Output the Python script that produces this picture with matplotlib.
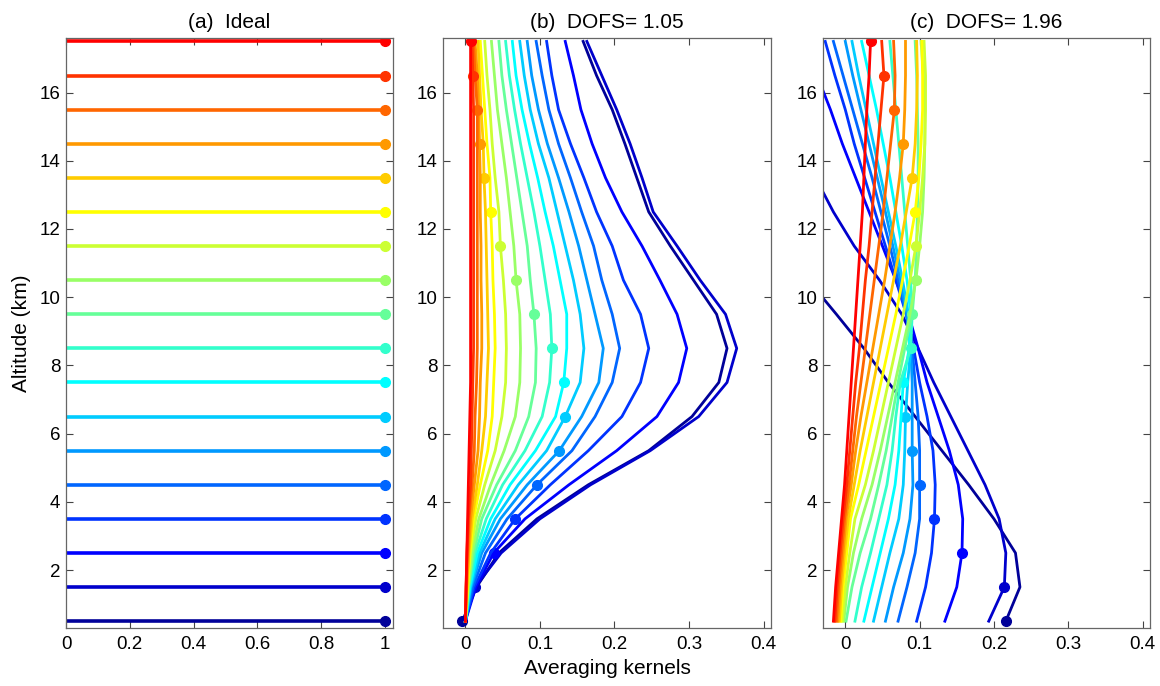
import matplotlib
matplotlib.use("Agg")
import matplotlib.pyplot as plt

plt.rcParams['font.family'] = ['Liberation Sans', 'DejaVu Sans']

# ---------------- data ----------------
altitudes = [0.5, 1.5, 2.5, 3.5, 4.5, 5.5, 6.5, 7.5, 8.5,
             9.5, 10.5, 11.5, 12.5, 13.5, 14.5, 15.5, 16.5, 17.5]

# panel (a): ideal kernels (value at own level)
ideal_values = [1.0, 1.0, 1.0, 1.0, 1.0, 1.0, 1.0, 1.0, 1.0,
                1.0, 1.0, 1.0, 1.0, 1.0, 1.0, 1.0, 1.0, 1.0]

# panel (b): one row per kernel (kernel level 0.5 ... 17.5), values over altitudes 0.5 ... 17.5
ak_b_k00 = [-0.004, 0.015, 0.045, 0.096, 0.165, 0.246, 0.304, 0.340, 0.351, 0.337, 0.306, 0.275, 0.246, 0.230, 0.214, 0.197, 0.176, 0.158]
ak_b_k01 = [-0.001, 0.013, 0.048, 0.100, 0.168, 0.248, 0.313, 0.351, 0.364, 0.349, 0.315, 0.284, 0.252, 0.237, 0.221, 0.203, 0.183, 0.163]
ak_b_k02 = [0.000, 0.014, 0.038, 0.080, 0.139, 0.203, 0.257, 0.286, 0.297, 0.284, 0.261, 0.237, 0.210, 0.188, 0.170, 0.155, 0.145, 0.134]
ak_b_k03 = [0.000, 0.012, 0.034, 0.067, 0.114, 0.165, 0.210, 0.235, 0.246, 0.235, 0.212, 0.197, 0.176, 0.159, 0.141, 0.125, 0.116, 0.109]
ak_b_k04 = [0.000, 0.010, 0.027, 0.056, 0.096, 0.143, 0.174, 0.197, 0.207, 0.197, 0.183, 0.172, 0.156, 0.141, 0.125, 0.112, 0.103, 0.095]
ak_b_k05 = [0.000, 0.008, 0.022, 0.047, 0.083, 0.126, 0.156, 0.179, 0.185, 0.174, 0.163, 0.152, 0.139, 0.125, 0.110, 0.098, 0.089, 0.083]
ak_b_k06 = [0.000, 0.007, 0.019, 0.040, 0.071, 0.109, 0.134, 0.154, 0.159, 0.154, 0.145, 0.134, 0.123, 0.112, 0.098, 0.087, 0.079, 0.073]
ak_b_k07 = [0.000, 0.006, 0.016, 0.034, 0.060, 0.094, 0.121, 0.132, 0.136, 0.136, 0.127, 0.118, 0.107, 0.097, 0.086, 0.076, 0.068, 0.063]
ak_b_k08 = [0.000, 0.005, 0.013, 0.028, 0.050, 0.080, 0.103, 0.113, 0.116, 0.114, 0.107, 0.100, 0.092, 0.083, 0.074, 0.066, 0.059, 0.054]
ak_b_k09 = [0.000, 0.004, 0.011, 0.022, 0.042, 0.067, 0.085, 0.094, 0.095, 0.092, 0.087, 0.083, 0.076, 0.069, 0.062, 0.055, 0.049, 0.045]
ak_b_k10 = [0.000, 0.004, 0.009, 0.018, 0.034, 0.052, 0.067, 0.073, 0.074, 0.073, 0.068, 0.065, 0.060, 0.055, 0.049, 0.043, 0.039, 0.035]
ak_b_k11 = [0.000, 0.003, 0.007, 0.014, 0.026, 0.040, 0.049, 0.054, 0.055, 0.054, 0.051, 0.047, 0.045, 0.040, 0.036, 0.033, 0.029, 0.026]
ak_b_k12 = [0.000, 0.003, 0.006, 0.011, 0.020, 0.030, 0.036, 0.038, 0.040, 0.039, 0.037, 0.036, 0.034, 0.033, 0.029, 0.026, 0.023, 0.020]
ak_b_k13 = [0.000, 0.002, 0.005, 0.009, 0.016, 0.022, 0.027, 0.029, 0.031, 0.030, 0.029, 0.028, 0.027, 0.025, 0.024, 0.021, 0.019, 0.017]
ak_b_k14 = [0.000, 0.002, 0.004, 0.007, 0.012, 0.017, 0.019, 0.020, 0.022, 0.022, 0.021, 0.021, 0.020, 0.020, 0.019, 0.018, 0.016, 0.013]
ak_b_k15 = [0.000, 0.001, 0.003, 0.005, 0.009, 0.012, 0.013, 0.015, 0.016, 0.016, 0.016, 0.016, 0.016, 0.016, 0.016, 0.016, 0.013, 0.011]
ak_b_k16 = [0.000, 0.001, 0.002, 0.004, 0.007, 0.008, 0.009, 0.010, 0.011, 0.011, 0.011, 0.011, 0.011, 0.011, 0.011, 0.011, 0.010, 0.009]
ak_b_k17 = [0.000, 0.001, 0.002, 0.003, 0.004, 0.005, 0.006, 0.007, 0.007, 0.007, 0.007, 0.007, 0.007, 0.007, 0.007, 0.007, 0.007, 0.007]

# panel (c)
ak_c_k00 = [0.216, 0.235, 0.229, 0.200, 0.166, 0.130, 0.094, 0.058, 0.025, -0.012, -0.050, -0.086, -0.120, -0.150, -0.180, -0.210, -0.240, -0.270]
ak_c_k01 = [0.193, 0.214, 0.216, 0.207, 0.188, 0.165, 0.142, 0.119, 0.098, 0.076, 0.046, 0.012, -0.016, -0.040, -0.065, -0.090, -0.115, -0.140]
ak_c_k02 = [0.134, 0.150, 0.157, 0.158, 0.152, 0.140, 0.125, 0.110, 0.098, 0.085, 0.068, 0.050, 0.032, 0.014, -0.004, -0.020, -0.038, -0.056]
ak_c_k03 = [0.096, 0.108, 0.116, 0.120, 0.121, 0.118, 0.110, 0.100, 0.092, 0.082, 0.068, 0.054, 0.040, 0.026, 0.012, 0.000, -0.014, -0.027]
ak_c_k04 = [0.071, 0.083, 0.094, 0.100, 0.100, 0.100, 0.098, 0.094, 0.090, 0.082, 0.071, 0.060, 0.048, 0.036, 0.023, 0.010, -0.003, -0.016]
ak_c_k05 = [0.054, 0.065, 0.078, 0.087, 0.091, 0.090, 0.090, 0.090, 0.088, 0.083, 0.074, 0.064, 0.054, 0.043, 0.032, 0.021, 0.010, 0.000]
ak_c_k06 = [0.038, 0.049, 0.060, 0.072, 0.078, 0.080, 0.081, 0.084, 0.088, 0.085, 0.077, 0.068, 0.058, 0.048, 0.038, 0.028, 0.018, 0.009]
ak_c_k07 = [0.025, 0.036, 0.047, 0.058, 0.067, 0.072, 0.075, 0.078, 0.086, 0.088, 0.083, 0.076, 0.068, 0.060, 0.051, 0.042, 0.032, 0.022]
ak_c_k08 = [0.013, 0.022, 0.034, 0.045, 0.056, 0.063, 0.068, 0.074, 0.088, 0.090, 0.088, 0.084, 0.080, 0.076, 0.072, 0.068, 0.064, 0.060]
ak_c_k09 = [0.001, 0.009, 0.020, 0.034, 0.045, 0.055, 0.063, 0.071, 0.080, 0.090, 0.094, 0.096, 0.097, 0.098, 0.098, 0.097, 0.096, 0.094]
ak_c_k10 = [-0.002, 0.003, 0.011, 0.022, 0.036, 0.047, 0.057, 0.067, 0.077, 0.087, 0.095, 0.100, 0.104, 0.106, 0.107, 0.107, 0.105, 0.102]
ak_c_k11 = [-0.004, 0.000, 0.006, 0.013, 0.027, 0.038, 0.048, 0.058, 0.068, 0.078, 0.087, 0.095, 0.100, 0.104, 0.107, 0.108, 0.108, 0.106]
ak_c_k12 = [-0.006, -0.003, 0.002, 0.007, 0.018, 0.028, 0.038, 0.048, 0.058, 0.068, 0.077, 0.086, 0.094, 0.099, 0.102, 0.104, 0.104, 0.103]
ak_c_k13 = [-0.008, -0.005, -0.001, 0.004, 0.012, 0.020, 0.029, 0.038, 0.047, 0.056, 0.065, 0.074, 0.082, 0.090, 0.094, 0.096, 0.097, 0.096]
ak_c_k14 = [-0.010, -0.007, -0.003, 0.001, 0.008, 0.014, 0.021, 0.029, 0.037, 0.045, 0.053, 0.060, 0.067, 0.073, 0.078, 0.080, 0.081, 0.081]
ak_c_k15 = [-0.012, -0.009, -0.005, -0.001, 0.005, 0.010, 0.015, 0.021, 0.027, 0.033, 0.039, 0.045, 0.051, 0.056, 0.061, 0.066, 0.067, 0.065]
ak_c_k16 = [-0.014, -0.011, -0.007, -0.003, 0.002, 0.006, 0.010, 0.014, 0.019, 0.023, 0.027, 0.032, 0.036, 0.040, 0.044, 0.048, 0.052, 0.049]
ak_c_k17 = [-0.016, -0.013, -0.009, -0.005, -0.001, 0.002, 0.005, 0.008, 0.011, 0.014, 0.017, 0.020, 0.023, 0.025, 0.027, 0.029, 0.032, 0.034]

kernels_b = [ak_b_k00, ak_b_k01, ak_b_k02, ak_b_k03, ak_b_k04, ak_b_k05, ak_b_k06, ak_b_k07, ak_b_k08,
             ak_b_k09, ak_b_k10, ak_b_k11, ak_b_k12, ak_b_k13, ak_b_k14, ak_b_k15, ak_b_k16, ak_b_k17]
kernels_c = [ak_c_k00, ak_c_k01, ak_c_k02, ak_c_k03, ak_c_k04, ak_c_k05, ak_c_k06, ak_c_k07, ak_c_k08,
             ak_c_k09, ak_c_k10, ak_c_k11, ak_c_k12, ak_c_k13, ak_c_k14, ak_c_k15, ak_c_k16, ak_c_k17]

titles = ["(a)  Ideal", "(b)  DOFS= 1.05", "(c)  DOFS= 1.96"]
ytick_values = [2, 4, 6, 8, 10, 12, 14, 16]
xticks_a = [0, 0.2, 0.4, 0.6, 0.8, 1]
xticks_bc = [0, 0.1, 0.2, 0.3, 0.4]

# ---------------- style ----------------
# MATLAB jet(18)
colors = [(0, 0, 0.6), (0, 0, 0.8), (0, 0, 1), (0, 0.2, 1), (0, 0.4, 1), (0, 0.6, 1),
          (0, 0.8, 1), (0, 1, 1), (0.2, 1, 0.8), (0.4, 1, 0.6), (0.6, 1, 0.4), (0.8, 1, 0.2),
          (1, 1, 0), (1, 0.8, 0), (1, 0.6, 0), (1, 0.4, 0), (1, 0.2, 0), (1, 0, 0)]

fig = plt.figure(figsize=(11.6, 6.86), dpi=100)
W, H = 1160, 686
def add_ax(left, top, right, bottom):
    return fig.add_axes([left / W, 1 - bottom / H, (right - left) / W, (bottom - top) / H])

ax_a = add_ax(66, 38, 393, 628)
ax_b = add_ax(443, 38, 771, 628)
ax_c = add_ax(823, 38, 1150, 628)

LW = 2.0
MS = 7

# panel a
for i, alt in enumerate(altitudes):
    ax_a.plot([0, ideal_values[i]], [alt, alt], color=colors[i], lw=2.6, solid_capstyle='butt')
    ax_a.plot([ideal_values[i]], [alt], 'o', color=colors[i], ms=MS, mec=colors[i])

# panels b, c
for ax, kernels in ((ax_b, kernels_b), (ax_c, kernels_c)):
    for i, k in enumerate(kernels):
        ax.plot(k, altitudes, color=colors[i], lw=LW)
        ax.plot([k[i]], [altitudes[i]], 'o', color=colors[i], ms=MS, mec=colors[i])

for ax, title in zip((ax_a, ax_b, ax_c), titles):
    ax.set_ylim(0.3, 17.6)
    ax.set_yticks(ytick_values)
    ax.set_title(title, fontsize=15, pad=7)
    ax.tick_params(direction='in', length=5, width=0.8, top=True, right=True,
                   labelsize=13.5, color='#444444')
    ax.tick_params(axis='y', pad=4)
    ax.tick_params(axis='x', pad=6)
    for sp in ax.spines.values():
        sp.set_color('#666666')
        sp.set_linewidth(0.9)

ax_a.set_xlim(0, 1.025)
ax_a.set_xticks(xticks_a)
ax_a.set_xticklabels(['0', '0.2', '0.4', '0.6', '0.8', '1'])
for ax in (ax_b, ax_c):
    ax.set_xlim(-0.03, 0.41)
    ax.set_xticks(xticks_bc)
    ax.set_xticklabels(['0', '0.1', '0.2', '0.3', '0.4'])

ax_a.set_ylabel("Altitude (km)", fontsize=15, labelpad=6)
ax_b.set_xlabel("Averaging kernels", fontsize=15, labelpad=4)

fig.savefig("out.png", dpi=100)
